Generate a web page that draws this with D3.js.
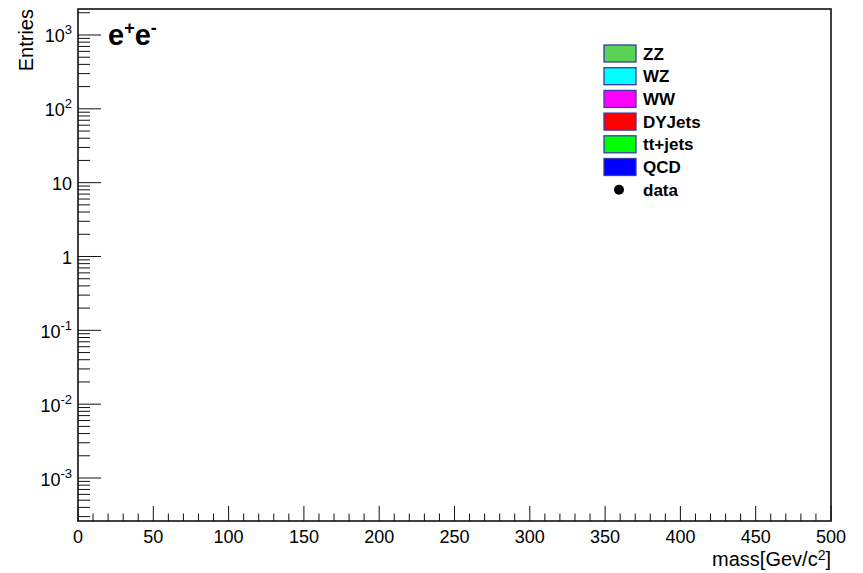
<!DOCTYPE html>
<html>
<head>
<meta charset="utf-8">
<script src="https://cdn.jsdelivr.net/npm/d3@7"></script>
<style>
  html, body { margin: 0; padding: 0; background: #fff; }
  svg { display: block; font-family: "Liberation Sans", Arial, sans-serif; }
</style>
</head>
<body>
<svg id="chart" width="863" height="573"></svg>
<script>
// ---- data ----
const legendNames  = ["ZZ", "WZ", "WW", "DYJets", "tt+jets", "QCD"];
const legendColors = ["#59d354", "#00ffff", "#ff00ff", "#ff0000", "#00ff00", "#0000ff"];
const dataLabel = "data";
// stacked MC histograms and data points (empty in this plot)
const zzValues = [], wzValues = [], wwValues = [], dyValues = [], ttValues = [], qcdValues = [], dataValues = [];
const xMajorTicks = [0, 50, 100, 150, 200, 250, 300, 350, 400, 450, 500];
const yDecadeExps = [-3, -2, -1, 0, 1, 2, 3];
const xDomain = [0, 500];
const yDomain = [2.616e-4, 2249];
const xTitle = "mass[Gev/c";
const yTitle = "Entries";
const channelLabel = "e";

// ---- layout ----
const svg = d3.select("#chart");
const L = 78, R = 831, T = 9, B = 521;
const x = d3.scaleLinear().domain(xDomain).range([L, R]);
const y = d3.scaleLog().domain(yDomain).range([B, T]);

// frame
svg.append("rect").attr("x", L).attr("y", T).attr("width", R - L).attr("height", B - T)
  .attr("fill", "none").attr("stroke", "#111").attr("stroke-width", 1.6);

// x ticks (inward)
const xMinor = d3.range(xDomain[0], xDomain[1] + 1, 10).filter(v => v % 50 !== 0);
const gx = svg.append("g");
gx.selectAll("line.maj").data(xMajorTicks).join("line")
  .attr("x1", d => x(d)).attr("x2", d => x(d)).attr("y1", B).attr("y2", B - 15)
  .attr("stroke", "#111").attr("stroke-width", 1);
gx.selectAll("line.min").data(xMinor).join("line")
  .attr("x1", d => x(d)).attr("x2", d => x(d)).attr("y1", B).attr("y2", B - 7.5)
  .attr("stroke", "#111").attr("stroke-width", 1);
gx.selectAll("text").data(xMajorTicks).join("text")
  .attr("x", d => x(d)).attr("y", 543).attr("text-anchor", "middle")
  .attr("font-size", 18).attr("fill", "#000").text(d => d);

// y ticks (inward)
const yMinor = [];
for (let e = -4; e <= 3; e++) for (let m = 2; m <= 9; m++) {
  const v = m * Math.pow(10, e);
  if (v >= yDomain[0] && v <= yDomain[1]) yMinor.push(v);
}
const gy = svg.append("g");
gy.selectAll("line.maj").data(yDecadeExps).join("line")
  .attr("x1", L).attr("x2", L + 23).attr("y1", d => y(Math.pow(10, d))).attr("y2", d => y(Math.pow(10, d)))
  .attr("stroke", "#111").attr("stroke-width", 1);
gy.selectAll("line.min").data(yMinor).join("line")
  .attr("x1", L).attr("x2", L + 12).attr("y1", d => y(d)).attr("y2", d => y(d))
  .attr("stroke", "#111").attr("stroke-width", 1);

yDecadeExps.forEach(e => {
  const yy = y(Math.pow(10, e));
  const t = svg.append("text").attr("x", 72).attr("y", yy + 7.5).attr("text-anchor", "end")
    .attr("font-size", 18).attr("fill", "#000");
  if (e === 0) t.text("1");
  else if (e === 1) t.text("10");
  else {
    t.append("tspan").text("10");
    t.append("tspan").attr("font-size", 13).attr("dy", -8).text(e);
  }
});

// axis titles
svg.append("text").attr("transform", "translate(33,9) rotate(-90)")
  .attr("text-anchor", "end").attr("font-size", 20).attr("fill", "#000").text(yTitle);
const xt = svg.append("text").attr("x", R).attr("y", 566).attr("text-anchor", "end")
  .attr("font-size", 20).attr("fill", "#000");
xt.append("tspan").text(xTitle);
xt.append("tspan").attr("font-size", 14).attr("dy", -6).text("2");
xt.append("tspan").attr("dy", 6).text("]");

// channel label e+e-
const ch = svg.append("text").attr("x", 108).attr("y", 45).attr("font-size", 29)
  .attr("font-weight", "bold").attr("fill", "#000");
ch.append("tspan").text(channelLabel);
ch.append("tspan").attr("font-size", 18).attr("dy", -11).text("+");
ch.append("tspan").attr("dy", 11).text(channelLabel);
ch.append("tspan").attr("font-size", 18).attr("dy", -11).text("-");

// legend
const lg = svg.append("g");
const rowY = i => 53.5 + i * 22.7;
legendNames.forEach((n, i) => {
  lg.append("rect").attr("x", 604).attr("y", rowY(i) - 8.5).attr("width", 32).attr("height", 17)
    .attr("fill", legendColors[i]).attr("stroke", "#3a3aa8").attr("stroke-width", 1.3);
  lg.append("text").attr("x", 643).attr("y", rowY(i) + 6).attr("font-size", 17)
    .attr("font-weight", "bold").attr("fill", "#000").text(n);
});
lg.append("circle").attr("cx", 619).attr("cy", rowY(6)).attr("r", 5).attr("fill", "#000");
lg.append("text").attr("x", 643).attr("y", rowY(6) + 6).attr("font-size", 17)
  .attr("font-weight", "bold").attr("fill", "#000").text(dataLabel);
</script>
</body>
</html>
